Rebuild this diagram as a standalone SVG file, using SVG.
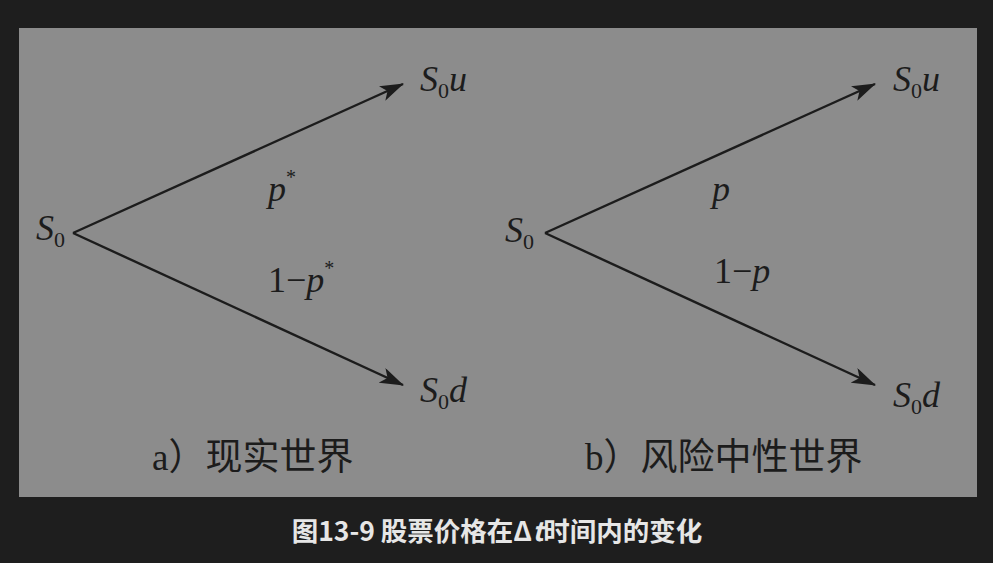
<svg xmlns="http://www.w3.org/2000/svg" width="993" height="563" viewBox="0 0 993 563">
<style>
.m{font-family:"Liberation Serif",serif;font-style:italic;font-size:36px;fill:#1c1c1c}
.r{font-style:normal}
.sub{font-size:22px;font-style:normal}
.e{stroke:#1c1c1c;stroke-width:2.4;fill:none}
.cap{font-family:"Liberation Serif","Noto Sans CJK SC",serif;font-size:37px;fill:#1c1c1c}
.title{font-family:"Noto Sans CJK SC",sans-serif;font-size:26.5px;font-weight:bold;fill:#e6e6e6}
</style>
<defs>
<marker id="ah" viewBox="0 0 24 16" refX="23" refY="8" markerWidth="24" markerHeight="16" markerUnits="userSpaceOnUse" orient="auto">
<path d="M0,0 L24,8 L0,16 L6,8 Z" fill="#1c1c1c"/>
</marker>
</defs>
<rect width="993" height="563" fill="#1e1e1e"/>
<rect x="19" y="28" width="958" height="469" fill="#8c8c8c"/>
<g id="connectors">
<line class="e" x1="73" y1="233" x2="403" y2="84" marker-end="url(#ah)"/>
<line class="e" x1="73" y1="233" x2="403" y2="385" marker-end="url(#ah)"/>
<line class="e" x1="545" y1="233" x2="875" y2="84" marker-end="url(#ah)"/>
<line class="e" x1="545" y1="233" x2="875" y2="385" marker-end="url(#ah)"/>
</g>
<g id="a_S0"><text class="m" x="36" y="240">S<tspan class="sub" dy="7">0</tspan></text></g>
<g id="a_S0u"><text class="m" x="420" y="91">S<tspan class="sub" dy="7">0</tspan><tspan dy="-7">u</tspan></text></g>
<g id="a_S0d"><text class="m" x="420" y="402">S<tspan class="sub" dy="7">0</tspan><tspan dy="-7">d</tspan></text></g>
<g id="a_p"><text class="m" x="268" y="201">p<tspan class="r" font-size="20" dy="-17">*</tspan></text></g>
<g id="a_1p"><text class="m" x="268" y="292"><tspan class="r">1−</tspan>p<tspan class="r" font-size="20" dy="-17">*</tspan></text></g>
<g id="b_S0"><text class="m" x="505" y="242">S<tspan class="sub" dy="7">0</tspan></text></g>
<g id="b_S0u"><text class="m" x="893" y="91">S<tspan class="sub" dy="7">0</tspan><tspan dy="-7">u</tspan></text></g>
<g id="b_S0d"><text class="m" x="893" y="407">S<tspan class="sub" dy="7">0</tspan><tspan dy="-7">d</tspan></text></g>
<g id="b_p"><text class="m" x="712" y="201">p</text></g>
<g id="b_1p"><text class="m" x="714" y="283"><tspan class="r">1−</tspan>p</text></g>
<g id="cap_a"><text class="cap" x="152" y="470">a）现实世界</text></g>
<g id="cap_b"><text class="cap" x="585" y="470">b）风险中性世界</text></g>
<g id="title"><text class="title" x="497" y="541" text-anchor="middle">图13-9 股票价格在Δ<tspan font-style="italic">t</tspan>时间内的变化</text></g>
</svg>
